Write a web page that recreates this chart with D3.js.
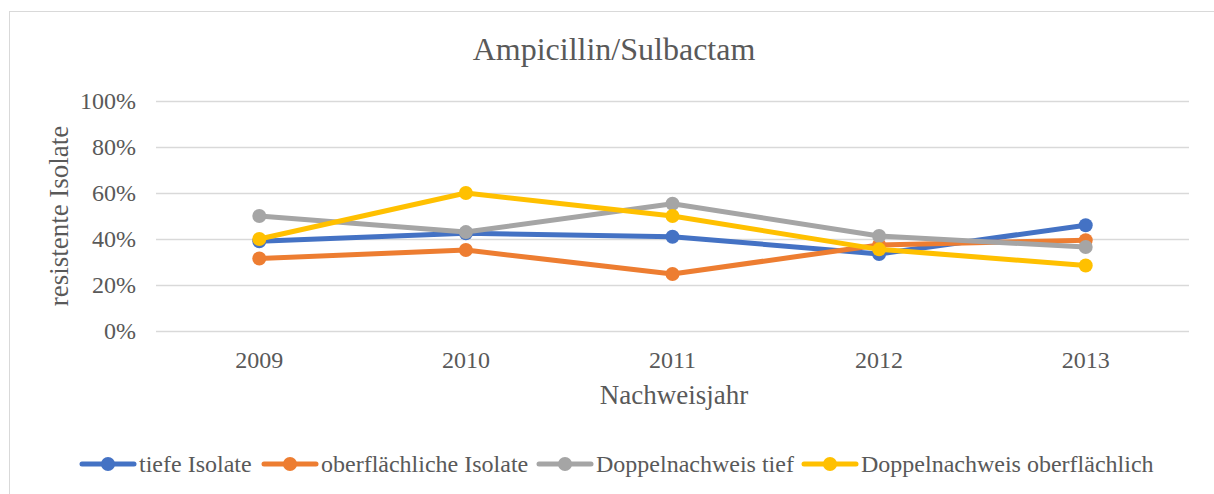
<!DOCTYPE html>
<html>
<head>
<meta charset="utf-8">
<script src="https://cdn.jsdelivr.net/npm/d3@7"></script>
<style>
body { margin: 0; background: #fff; }
text { font-family: "Liberation Serif", "Times New Roman", serif; fill: #595959; }
</style>
</head>
<body>
<svg width="1214" height="494"></svg>
<script>
var years = ["2009", "2010", "2011", "2012", "2013"];
var seriesNames = ["tiefe Isolate", "oberflächliche Isolate", "Doppelnachweis tief", "Doppelnachweis oberflächlich"];
var tiefe = [0.39, 0.425, 0.41, 0.335, 0.46];
var oberflaechlich = [0.315, 0.352, 0.248, 0.374, 0.395];
var doppelTief = [0.50, 0.43, 0.553, 0.413, 0.365];
var doppelOber = [0.40, 0.60, 0.50, 0.355, 0.285];
var yTicks = [0, 0.2, 0.4, 0.6, 0.8, 1.0];
var colors = ["#4472c4", "#ed7d31", "#a5a5a5", "#ffc000"];

var allSeries = [tiefe, oberflaechlich, doppelTief, doppelOber];

var svg = d3.select("svg"),
margin = {top: 101, right: 25, bottom: 163, left: 156},
width = +svg.attr("width") - margin.left - margin.right,
height = +svg.attr("height") - margin.top - margin.bottom;

// chart frame
svg.append("rect")
	.attr("x", 9.5).attr("y", 11.5)
	.attr("width", 1214).attr("height", 494)
	.attr("fill", "none").attr("stroke", "#d9d9d9");

var x = d3.scaleBand().domain(years).range([0, width]),
y = d3.scaleLinear().domain([0, 1]).range([height, 0]);

var g = svg.append("g")
	.attr("transform", "translate(" + margin.left + "," + margin.top + ")");

// gridlines
g.selectAll(".grid")
	.data(yTicks)
	.enter().append("line")
	.attr("x1", 0).attr("x2", width)
	.attr("y1", function (d) { return Math.round(y(d)) + 0.5; })
	.attr("y2", function (d) { return Math.round(y(d)) + 0.5; })
	.attr("stroke", "#d9d9d9").attr("stroke-width", 1.5);

var yAxis = d3.axisLeft(y).tickValues(yTicks).tickFormat(d3.format(".0%")).tickSize(0).tickPadding(20);
g.append("g").call(yAxis)
	.call(function (s) { s.select(".domain").remove(); })
	.selectAll("text").style("font-size", "24px").attr("fill", "#595959");

var xAxis = d3.axisBottom(x).tickSize(0).tickPadding(20);
g.append("g").attr("transform", "translate(0," + height + ")").call(xAxis)
	.call(function (s) { s.select(".domain").remove(); })
	.selectAll("text").style("font-size", "24px").attr("fill", "#595959");

var line = d3.line()
	.x(function (d, i) { return x(years[i]) + x.bandwidth() / 2; })
	.y(function (d) { return y(d); });

allSeries.forEach(function (vals, k) {
	g.append("path")
		.datum(vals)
		.attr("fill", "none")
		.attr("stroke", colors[k])
		.attr("stroke-width", 5)
		.attr("stroke-linejoin", "round")
		.attr("d", line);
	g.selectAll(".dot" + k)
		.data(vals)
		.enter().append("circle")
		.attr("cx", function (d, i) { return x(years[i]) + x.bandwidth() / 2; })
		.attr("cy", function (d) { return y(d); })
		.attr("r", 7)
		.attr("fill", colors[k]);
});

// title and axis titles
svg.append("text")
	.attr("x", 614).attr("y", 60)
	.attr("text-anchor", "middle")
	.style("font-size", "32px")
	.text("Ampicillin/Sulbactam");

svg.append("text")
	.attr("x", 674).attr("y", 404)
	.attr("text-anchor", "middle")
	.style("font-size", "27px")
	.text("Nachweisjahr");

svg.append("text")
	.attr("transform", "translate(68,216) rotate(-90)")
	.attr("text-anchor", "middle")
	.style("font-size", "27px")
	.text("resistente Isolate");

// legend
var legendX = [80, 262, 537, 802];
var legend = svg.append("g").attr("transform", "translate(0,464)");
seriesNames.forEach(function (name, k) {
	var lg = legend.append("g").attr("transform", "translate(" + legendX[k] + ",0)");
	lg.append("line").attr("x1", 2).attr("x2", 54).attr("y1", 0).attr("y2", 0)
		.attr("stroke", colors[k]).attr("stroke-width", 5).attr("stroke-linecap", "round");
	lg.append("circle").attr("cx", 28).attr("cy", 0).attr("r", 7).attr("fill", colors[k]);
	lg.append("text").attr("x", 59).attr("y", 8).style("font-size", "24px").text(name);
});
</script>
</body>
</html>
